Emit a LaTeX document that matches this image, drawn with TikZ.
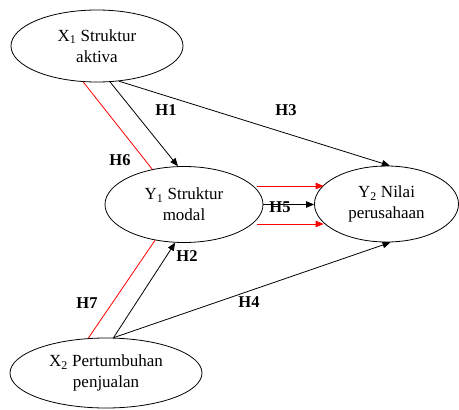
\documentclass[tikz,border=0pt]{standalone}
\usepackage{fontspec}
\setmainfont{Liberation Serif}
\usetikzlibrary{shapes.geometric,arrows.meta}
\begin{document}
\begin{tikzpicture}[x=1pt,y=-1pt,
  var/.style={draw,ellipse,inner sep=0pt,line width=0.8pt,align=center,
    font=\fontsize{17}{21}\selectfont},
  lab/.style={font=\fontsize{16.5}{20}\selectfont\bfseries,inner sep=0pt},
  link/.style={line width=0.8pt},
  arr/.style={link,-{Triangle[length=8pt,width=6.5pt]}},
  redline/.style={link,red},
  redarr/.style={arr,red}]
\useasboundingbox (0,0) rectangle (459,410);
\node[var,minimum width=172pt,minimum height=72pt] (x1) at (97,46) {X\textsubscript{1} Struktur\\aktiva};
\node[var,minimum width=158pt,minimum height=76pt] (y1) at (184,204.5) {Y\textsubscript{1} Struktur\\modal};
\node[var,minimum width=144pt,minimum height=76pt] (y2) at (386.5,204) {Y\textsubscript{2} Nilai\\perusahaan};
\node[var,minimum width=192pt,minimum height=70pt] (x2) at (106,373) {X\textsubscript{2} Pertumbuhan\\penjualan};
% connectors
\draw[redline] (x1.-111) -- (y1.132);
\draw[arr] (x1.-70.6) -- (y1.99);
\draw[arr] (x1.-58) -- (y2.85);
\draw[redarr] ([xshift=-6pt,yshift=18.5pt]y1.east) -- ([xshift=9.5pt,yshift=18pt]y2.west);
\draw[arr] (y1.east) -- (y2.west |- y1.east);
\draw[redarr] ([xshift=-6pt,yshift=-19.5pt]y1.east) -- ([xshift=9.5pt,yshift=-20pt]y2.west);
\draw[redline] (x2.117) -- (y1.-129);
\draw[arr] (x2.78) -- (y1.-103);
\draw[arr] (x2.78) -- (y2.-84);
% labels
\node[lab] (h1) at (166,110) {H1};
\node[lab] (h3) at (286,110) {H3};
\node[lab] (h6) at (120,160) {H6};
\node[lab] (h5) at (280,207) {H5};
\node[lab] (h2) at (187,256) {H2};
\node[lab] (h7) at (87,303) {H7};
\node[lab] (h4) at (249,302) {H4};
\end{tikzpicture}
\end{document}
